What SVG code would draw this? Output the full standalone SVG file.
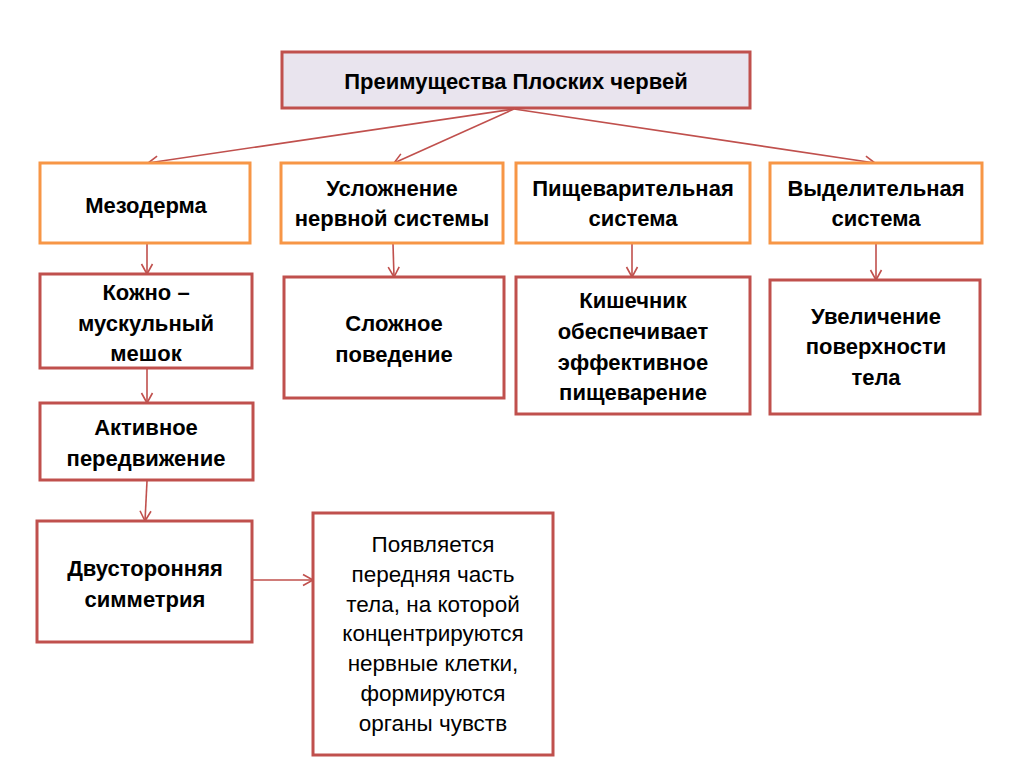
<svg xmlns="http://www.w3.org/2000/svg" width="1024" height="767" viewBox="0 0 1024 767">
<style>
.red{fill:#fff;stroke:#c0504d;stroke-width:3}
.org{fill:#fff;stroke:#f79646;stroke-width:3}
.top{fill:#e9e4ee;stroke:#c0504d;stroke-width:3}
text{font-family:"Liberation Sans",Arial,sans-serif;font-size:22px;text-anchor:middle;fill:#000}
.b{font-weight:bold}
.n{font-size:22.5px}
.c{stroke:#c0504d;stroke-width:1.6;fill:none}
</style>
<defs>
<marker id="ah" markerWidth="14" markerHeight="14" refX="11" refY="7" orient="auto" markerUnits="userSpaceOnUse">
<path d="M1,1.5 L11,7 L1,12.5" fill="none" stroke="#c0504d" stroke-width="1.6"/>
</marker>
</defs>
<rect width="1024" height="767" fill="#fff"/>
<g id="connectors">
<line class="c" x1="514" y1="109" x2="148" y2="163" marker-end="url(#ah)"/>
<line class="c" x1="514" y1="109" x2="394" y2="163" marker-end="url(#ah)"/>
<line class="c" x1="514" y1="109" x2="875" y2="163" marker-end="url(#ah)"/>
<line class="c" x1="147" y1="244" x2="147" y2="274" marker-end="url(#ah)"/>
<line class="c" x1="393" y1="244" x2="394" y2="277" marker-end="url(#ah)"/>
<line class="c" x1="632" y1="244" x2="632" y2="277" marker-end="url(#ah)"/>
<line class="c" x1="876" y1="244" x2="876" y2="280" marker-end="url(#ah)"/>
<line class="c" x1="147" y1="369" x2="147" y2="403" marker-end="url(#ah)"/>
<line class="c" x1="147" y1="481" x2="145" y2="521" marker-end="url(#ah)"/>
<line class="c" x1="253" y1="580" x2="313" y2="580" marker-end="url(#ah)"/>
</g>
<g id="n-top">
<rect class="top" x="282" y="52" width="468" height="56"/>
<text class="b" x="516" y="89" style="font-size:22px">Преимущества Плоских червей</text>
</g>
<g id="n-mesoderm">
<rect class="org" x="40" y="163" width="210" height="80"/>
<text class="b" x="146" y="213">Мезодерма</text>
</g>
<g id="n-nerv">
<rect class="org" x="281" y="163" width="222" height="80"/>
<text class="b" x="392" y="196">Усложнение</text>
<text class="b" x="392" y="226">нервной системы</text>
</g>
<g id="n-digest">
<rect class="org" x="516" y="163" width="234" height="80"/>
<text class="b" x="633" y="196">Пищеварительная</text>
<text class="b" x="633" y="226">система</text>
</g>
<g id="n-excr">
<rect class="org" x="770" y="163" width="212" height="80"/>
<text class="b" x="876" y="196">Выделительная</text>
<text class="b" x="876" y="226">система</text>
</g>
<g id="n-skin">
<rect class="red" x="40" y="274" width="212" height="94"/>
<text class="b" x="146" y="300">Кожно –</text>
<text class="b" x="146" y="331">мускульный</text>
<text class="b" x="146" y="361">мешок</text>
</g>
<g id="n-behav">
<rect class="red" x="284" y="277" width="220" height="121"/>
<text class="b" x="394" y="331">Сложное</text>
<text class="b" x="394" y="362">поведение</text>
</g>
<g id="n-gut">
<rect class="red" x="516" y="277" width="234" height="137"/>
<text class="b" x="633" y="308">Кишечник</text>
<text class="b" x="633" y="339">обеспечивает</text>
<text class="b" x="633" y="370">эффективное</text>
<text class="b" x="633" y="400">пищеварение</text>
</g>
<g id="n-surface">
<rect class="red" x="770" y="280" width="210" height="134"/>
<text class="b" x="876" y="324">Увеличение</text>
<text class="b" x="876" y="354">поверхности</text>
<text class="b" x="876" y="385">тела</text>
</g>
<g id="n-move">
<rect class="red" x="40" y="403" width="213" height="77"/>
<text class="b" x="146" y="435">Активное</text>
<text class="b" x="146" y="466">передвижение</text>
</g>
<g id="n-sym">
<rect class="red" x="37" y="521" width="215" height="121"/>
<text class="b" x="145" y="576">Двусторонняя</text>
<text class="b" x="145" y="607">симметрия</text>
</g>
<g id="n-front">
<rect class="red" x="313" y="513" width="240" height="242"/>
<text class="n" x="433" y="552">Появляется</text>
<text class="n" x="433" y="582">передняя часть</text>
<text class="n" x="433" y="612">тела, на которой</text>
<text class="n" x="433" y="641">концентрируются</text>
<text class="n" x="433" y="671">нервные клетки,</text>
<text class="n" x="433" y="701">формируются</text>
<text class="n" x="433" y="731">органы чувств</text>
</g>
</svg>
